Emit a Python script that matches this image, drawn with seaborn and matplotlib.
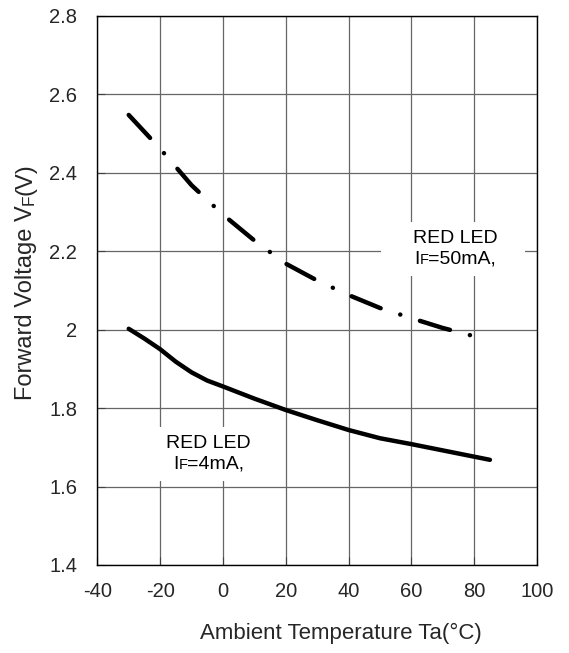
import numpy as np
import pandas as pd
import seaborn as sns
import matplotlib.pyplot as plt
from matplotlib.offsetbox import TextArea, HPacker, VPacker, DrawingArea, AnnotationBbox

sns.set_style("ticks")
plt.rcParams['font.family'] = ['Liberation Sans', 'DejaVu Sans']
plt.rcParams['axes.unicode_minus'] = False
plt.rcParams['lines.scale_dashes'] = False

# forward voltage vs ambient temperature
temps_50ma = [-30, -20, -10, 0, 10, 20, 30, 40, 50, 60, 70, 80, 85]
vf_50ma = [2.547, 2.461, 2.368, 2.293, 2.227, 2.168, 2.125, 2.088, 2.055, 2.029, 2.004, 1.983, 1.973]

temps_4ma = [-30, -25, -20, -15, -10, -5, 0, 10, 20, 30, 40, 50, 60, 70, 80, 85]
vf_4ma = [2.002, 1.977, 1.950, 1.918, 1.891, 1.870, 1.855, 1.824, 1.795, 1.769, 1.744, 1.723, 1.708, 1.692, 1.676, 1.668]

x_ticks = [-40, -20, 0, 20, 40, 60, 80, 100]
y_ticks = [1.4, 1.6, 1.8, 2.0, 2.2, 2.4, 2.6, 2.8]
y_tick_labels = ["1.4", "1.6", "1.8", "2", "2.2", "2.4", "2.6", "2.8"]


def led_box(ax, current, xy):
    main = dict(fontsize=14, color='black')
    small = dict(fontsize=10.5, color='black')
    line2 = HPacker(children=[TextArea("I", textprops=main),
                              TextArea("F", textprops=small),
                              TextArea(f"={current},", textprops=main)],
                    align="baseline", pad=0, sep=0)
    text = VPacker(children=[TextArea("RED LED", textprops=main), line2],
                   align="center", pad=0, sep=2.5)
    framed = HPacker(children=[DrawingArea(17, 1), text, DrawingArea(14, 1)],
                     align="center", pad=6, sep=0)
    ab = AnnotationBbox(framed, xy, xycoords='data', box_alignment=(0, 1),
                        frameon=True, pad=0,
                        bboxprops=dict(facecolor='white', edgecolor='none'),
                        zorder=3)
    ax.add_artist(ab)


fig = plt.figure(figsize=(5.69, 6.53), dpi=100)
ax = fig.add_axes([0.171, 0.1348, 0.7728, 0.8412])

sns.lineplot(x=temps_50ma, y=vf_50ma, ax=ax, color='black', linewidth=3.2,
             linestyle=(0, (22.6, 14.8, 0.1, 14.8)), dash_capstyle='round', zorder=4)
sns.lineplot(x=temps_4ma, y=vf_4ma, ax=ax, color='black', linewidth=3.2,
             solid_capstyle='round', zorder=4)

ax.set_xlim(-40, 100)
ax.set_ylim(1.4, 2.8)
ax.set_xticks(x_ticks, [str(t) for t in x_ticks])
ax.set_yticks(y_ticks, y_tick_labels)
ax.grid(True, color='#666666', linewidth=0.9, zorder=1)
ax.set_axisbelow(True)
ax.tick_params(axis='x', labelsize=14.5, direction='in', length=6, color='#404040', pad=12.5)
ax.tick_params(axis='y', labelsize=14.5, direction='in', length=6, color='#404040', pad=14.5)
for s in ax.spines.values():
    s.set_visible(True)
    s.set_color('black')
    s.set_linewidth(1)

led_box(ax, "50mA", (50.3, 2.274))
led_box(ax, "4mA", (-28.2, 1.752))

# x label
fig.text(482 / 569, 1 - 639.3 / 653, "Ambient Temperature Ta(°C)",
         ha='right', va='baseline', fontsize=16)

# y label with the small F
t1 = fig.text(37 / 569, 1 - 400 / 653, "Forward Voltage V", rotation=90,
              ha='right', va='bottom', fontsize=17)
t2 = ax.annotate("F", xy=(1, 1), xycoords=t1, rotation=90,
                 ha='right', va='bottom', fontsize=12.5)
ax.annotate("(V)", xy=(1, 1), xycoords=t2, rotation=90,
            ha='right', va='bottom', fontsize=17)

fig.savefig("out.png", dpi=100)
